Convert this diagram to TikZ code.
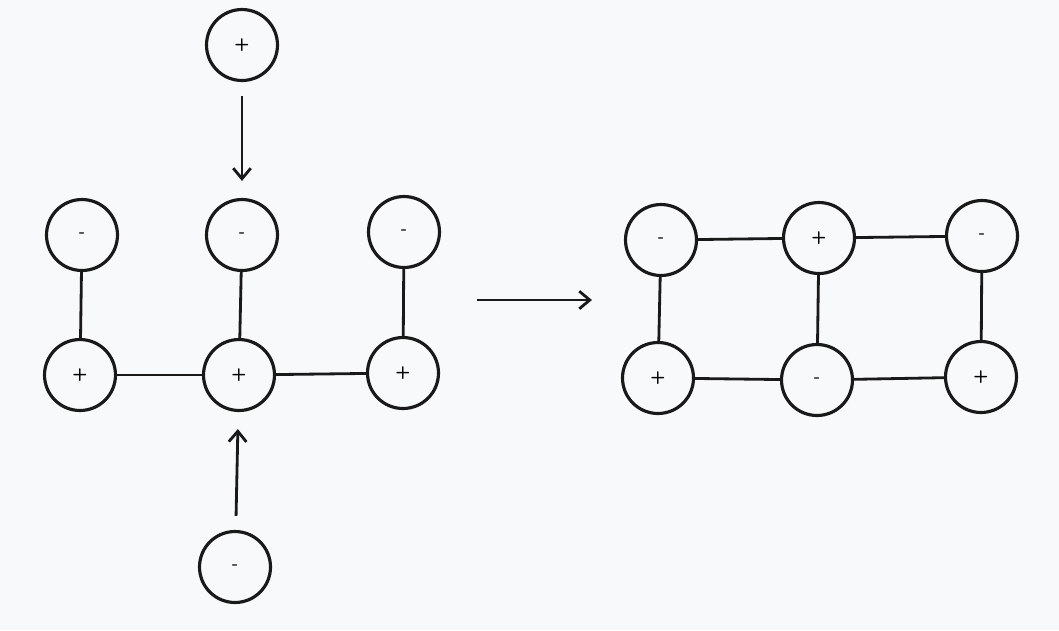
\documentclass[tikz,border=0pt]{standalone}
\usetikzlibrary{arrows.meta}
\definecolor{bg}{HTML}{F8F9FB}
\begin{document}
\begin{tikzpicture}[
    x=0.02cm, y=-0.02cm,
    atom/.style={
        circle,
        draw=black!90,
        line width=1.8pt,
        minimum size=1.42cm,
        inner sep=0pt,
        font=\sffamily\bfseries
    },
    bond/.style={line width=1.6pt, draw=black!90},
    move/.style={line width=1.6pt, draw=black!90, -{Straight Barb[length=6pt,width=10pt]}}
]
\fill[bg] (0,0) rectangle (1059,630);
\useasboundingbox (0,0) rectangle (1059,630);

% left: before
\node[atom] (top) at (242,45) {+};
\node[atom] (m1) at (82,235) {-};
\node[atom] (m2) at (242,235) {-};
\node[atom] (m3) at (404,232) {-};
\node[atom] (p1) at (80,375) {+};
\node[atom] (p2) at (239,375) {+};
\node[atom] (p3) at (403,373) {+};
\node[atom] (bot) at (235,567) {-};

\draw[bond] (m1) -- (p1);
\draw[bond] (m2) -- (p2);
\draw[bond] (m3) -- (p3);
\draw[bond] (p1) -- (p2);
\draw[bond] (p2) -- (p3);

\draw[move, shorten <=0.28cm, shorten >=0.34cm] (top) -- (m2);
\draw[move, shorten <=0.28cm, shorten >=0.34cm] (bot) -- (p2);

% reaction arrow
\coordinate (from) at (477,300);
\coordinate (to) at (592,300);
\draw[move] (from) -- (to);

% right: after
\node[atom] (r1) at (661,240) {-};
\node[atom] (r2) at (819,238) {+};
\node[atom] (r3) at (982,236) {-};
\node[atom] (s1) at (658,378) {+};
\node[atom] (s2) at (817,380) {-};
\node[atom] (s3) at (981,377) {+};

\draw[bond] (r1) -- (r2);
\draw[bond] (r2) -- (r3);
\draw[bond] (s1) -- (s2);
\draw[bond] (s2) -- (s3);
\draw[bond] (r1) -- (s1);
\draw[bond] (r2) -- (s2);
\draw[bond] (r3) -- (s3);

\end{tikzpicture}
\end{document}
